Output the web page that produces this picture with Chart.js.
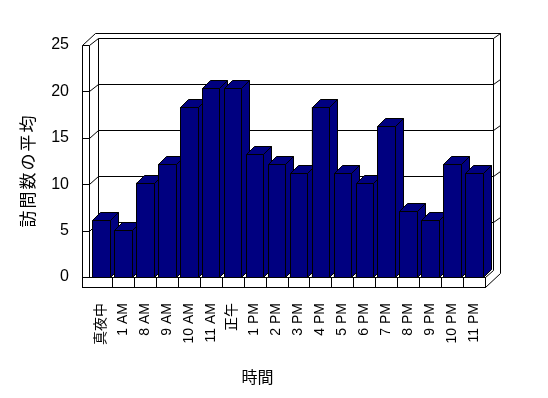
<!DOCTYPE html>
<html>
<head>
<meta charset="utf-8">
<script src="https://cdn.jsdelivr.net/npm/chart.js@4/dist/chart.umd.min.js"></script>
<style>
  html, body { margin: 0; padding: 0; background: #fff; }
</style>
</head>
<body>
<canvas id="chart" width="548" height="398"></canvas>
<script>
// data
const hours = ['真夜中', '1 AM', '8 AM', '9 AM', '10 AM', '11 AM', '正午', '1 PM', '2 PM', '3 PM',
               '4 PM', '5 PM', '6 PM', '7 PM', '8 PM', '9 PM', '10 PM', '11 PM'];
const visits = [6, 5, 10, 12, 18, 20, 20, 13, 12, 11, 18, 11, 10, 16, 7, 6, 12, 11];
const yTicks = [0, 5, 10, 15, 20, 25];
const xTitle = '時間';
const yTitle = '訪問数の平均';

const NAVY = '#000080';
const DEPTH = 8;   // bar depth in px
const px = v => Math.round(v) + 0.5;

// draws the Excel-like 3D walls, floor, back grid and bar depth faces
const box3d = {
  id: 'box3d',
  beforeDatasetsDraw(chart) {
    const ctx = chart.ctx;
    const a = chart.chartArea;
    const yl = chart.scales.yl;
    const xs = chart.scales.x;
    const L = a.left, R = a.right;
    const B = yl.getPixelForValue(0), T = yl.getPixelForValue(25);
    const fL = px(L - 8), iL = px(L - 1), bL = px(L + 8), bR = px(R + 8), oR = px(R + 15);
    const fT = px(T), bT = px(T - 7), oT = px(T - 12);
    const fB = px(B), fB2 = px(B + 10);

    ctx.save();
    ctx.strokeStyle = '#000';
    ctx.lineWidth = 1;
    const line = pts => {
      ctx.beginPath();
      ctx.moveTo(pts[0][0], pts[0][1]);
      for (let i = 1; i < pts.length; i++) ctx.lineTo(pts[i][0], pts[i][1]);
      ctx.stroke();
    };

    // left wall
    line([[fL, fB2], [fL, fT], [iL, fT], [iL, fB]]);
    line([[fL, fT], [px(L + 5), oT]]);
    line([[iL, fT], [bL, bT]]);
    // top edges of back wall
    line([[px(L + 5), oT], [oR, oT]]);
    line([[bL, fB], [bL, bT], [bR, bT], [bR, px(B - 7)]]);
    line([[bR, bT], [oR, oT], [oR, px(B - 4)]]);

    // back grid lines
    yTicks.filter(v => v > 0 && v < 25).forEach(v => {
      const yf = px(yl.getPixelForValue(v));
      const yb = px(yl.getPixelForValue(v) - 8.5 + v * 0.06);
      line([[fL, yf], [iL, yf], [bL, yb], [bR, yb], [oR, yb - 5]]);
    });

    // floor
    ctx.fillStyle = '#fff';
    ctx.fillRect(fL, fB, px(R) - fL, fB2 - fB);
    ctx.strokeRect(fL, fB, px(R) - fL, fB2 - fB);
    line([[px(R), fB2], [oR, px(B - 4)]]);
    line([[px(R), fB], [bR, px(B - 7)]]);
    for (let i = 1; i < hours.length; i++) {
      const xb = px((xs.getPixelForValue(i - 1) + xs.getPixelForValue(i)) / 2);
      line([[xb, fB], [xb, fB2]]);
    }
    ctx.restore();
  },
  afterDatasetsDraw(chart) {
    const ctx = chart.ctx;
    const meta = chart.getDatasetMeta(0);
    ctx.save();
    ctx.strokeStyle = '#000';
    ctx.fillStyle = NAVY;
    ctx.lineWidth = 1;
    const poly = pts => {
      ctx.beginPath();
      ctx.moveTo(pts[0][0], pts[0][1]);
      for (let i = 1; i < pts.length; i++) ctx.lineTo(pts[i][0], pts[i][1]);
      ctx.closePath();
      ctx.fill();
      ctx.stroke();
    };
    // left to right so each bar hides the side of the one before it
    meta.data.forEach(bar => {
      const p = bar.getProps(['x', 'y', 'base', 'width'], true);
      const xl = px(p.x - p.width / 2), xr = px(p.x + p.width / 2);
      const yt = px(p.y), yb = px(p.base);
      poly([[xr, yt], [xr + DEPTH, yt - DEPTH], [xr + DEPTH, yb - DEPTH], [xr, yb]]);
      poly([[xl, yt], [xl + DEPTH, yt - DEPTH], [xr + DEPTH, yt - DEPTH], [xr, yt]]);
      poly([[xl, yt], [xr, yt], [xr, yb], [xl, yb]]);
    });
    ctx.restore();
  },
  afterDraw(chart) {
    const ctx = chart.ctx;
    // y title, one character at a time for the wide spacing of the original
    ctx.save();
    ctx.fillStyle = '#000';
    ctx.textAlign = 'center';
    ctx.textBaseline = 'middle';
    ctx.font = '17px "Noto Sans CJK JP"';
    ctx.translate(27.5, 171.5);
    ctx.rotate(-Math.PI / 2);
    const chars = Array.from(yTitle);
    const step = 19;
    chars.forEach((c, i) => {
      ctx.fillText(c, (i - (chars.length - 1) / 2) * step, 0);
    });
    ctx.restore();

    ctx.save();
    ctx.fillStyle = '#000';
    ctx.textAlign = 'center';
    ctx.textBaseline = 'middle';
    ctx.font = '16px "Noto Sans CJK JP"';
    ctx.fillText(xTitle, 257.5, 376.5);
    ctx.restore();
  }
};

new Chart(document.getElementById('chart'), {
  type: 'bar',
  data: {
    labels: hours,
    datasets: [{
      data: visits,
      backgroundColor: NAVY,
      borderColor: '#000',
      borderWidth: 1,
      barPercentage: 0.8,
      categoryPercentage: 1
    }]
  },
  options: {
    responsive: false,
    animation: false,
    devicePixelRatio: 1,
    layout: { padding: { left: 0, right: 63, top: 41, bottom: 0 } },
    plugins: { legend: { display: false }, tooltip: { enabled: false } },
    scales: {
      x: {
        grid: { display: false, drawTicks: false, tickLength: 0 },
        border: { display: false },
        ticks: {
          autoSkip: false, minRotation: 90, maxRotation: 90, padding: 26, color: '#000',
          font: { family: '"Liberation Sans", "Noto Sans CJK JP", sans-serif', size: 14 }
        },
        afterFit: s => { s.height = 121; }
      },
      y: { display: false, min: 0, max: 25 },
      yl: {
        position: 'left', min: 0, max: 25.43,
        afterBuildTicks: s => { s.ticks = yTicks.map(v => ({ value: v })); },
        grid: { display: false, drawTicks: false, tickLength: 0 },
        border: { display: false },
        ticks: { padding: 21, color: '#000', font: { family: '"Liberation Sans", sans-serif', size: 16 } },
        afterFit: s => { s.width = 90; }
      }
    }
  },
  plugins: [box3d]
});
</script>
</body>
</html>
